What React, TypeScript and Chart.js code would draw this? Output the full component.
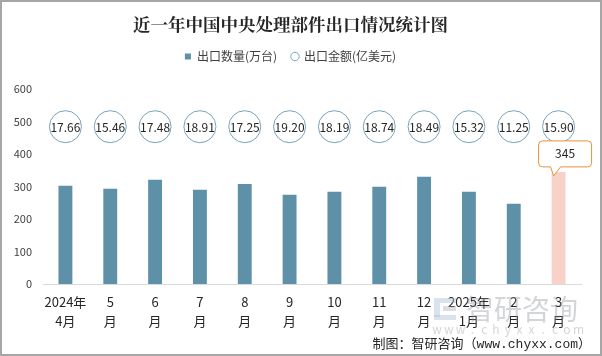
import React, { useEffect, useRef } from 'react';
import { Chart, registerables } from 'chart.js';

Chart.register(...registerables);

const MONTHS: string[][] = [
  ['2024年', '4月'], ['5', '月'], ['6', '月'], ['7', '月'], ['8', '月'], ['9', '月'],
  ['10', '月'], ['11', '月'], ['12', '月'], ['2025年', '1月'], ['2', '月'], ['3', '月'],
];
const QUANTITY: number[] = [302, 293, 321, 290, 308, 275, 284, 299, 330, 284, 247, 345];
const AMOUNT: number[] = [17.66, 15.46, 17.48, 18.91, 17.25, 19.2, 18.19, 18.74, 18.49, 15.32, 11.25, 15.9];
const Y_MIN = 0;
const Y_MAX = 600;
const Y_STEP = 100;
const BUBBLE_ROW = 484; // level (on the quantity axis) where amount bubbles sit

const TITLE = '近一年中国中央处理部件出口情况统计图';
const SERIES_QTY = '出口数量(万台)';
const SERIES_AMT = '出口金额(亿美元)';
const SOURCE = '制图：智研咨询（www.chyxx.com）';

const FONT = '"Microsoft YaHei", "Noto Sans CJK SC", sans-serif';
const BAR_COLOR = '#5e91a8';
const LAST_COLOR = '#f8d2c9';
const BUBBLE_BORDER = '#76a3b9';

const legendSpacer = {
  id: 'legendSpacer',
  beforeLayout(chart: any) {
    const lg = chart.legend;
    if (lg && !lg.__patched) {
      const orig = lg.fit.bind(lg);
      lg.fit = function () {
        orig();
        this.height += 16.5;
      };
      lg.__patched = true;
    }
  },
};

const decor = {
  id: 'decor',
  afterDatasetsDraw(chart: any) {
    const ctx = chart.ctx as CanvasRenderingContext2D;
    // bubble labels
    const m1 = chart.getDatasetMeta(1);
    ctx.save();
    ctx.font = `12px ${FONT}`;
    ctx.fillStyle = '#262626';
    ctx.textAlign = 'center';
    ctx.textBaseline = 'middle';
    m1.data.forEach((p: any, i: number) => {
      ctx.fillText(AMOUNT[i].toFixed(2), p.x, p.y + 1);
    });
    ctx.restore();

    // callout on last bar
    const m0 = chart.getDatasetMeta(0);
    const idx = QUANTITY.length - 1;
    const bar = m0.data[idx];
    const bx = bar.x, by = bar.y;
    const left = bx - 20, right = bx + 33, top = by - 31, bottom = by - 5, r = 4;
    ctx.save();
    ctx.beginPath();
    ctx.moveTo(left + r, top);
    ctx.lineTo(right - r, top);
    ctx.arcTo(right, top, right, top + r, r);
    ctx.lineTo(right, bottom - r);
    ctx.arcTo(right, bottom, right - r, bottom, r);
    ctx.lineTo(bx + 2, bottom);
    ctx.lineTo(bx - 5, by + 4);
    ctx.lineTo(bx - 8, bottom);
    ctx.lineTo(left + r, bottom);
    ctx.arcTo(left, bottom, left, bottom - r, r);
    ctx.lineTo(left, top + r);
    ctx.arcTo(left, top, left + r, top, r);
    ctx.closePath();
    ctx.fillStyle = '#ffffff';
    ctx.fill();
    ctx.strokeStyle = '#e8913a';
    ctx.lineWidth = 1;
    ctx.stroke();
    ctx.font = `12px ${FONT}`;
    ctx.fillStyle = '#262626';
    ctx.textAlign = 'center';
    ctx.textBaseline = 'middle';
    ctx.fillText(String(QUANTITY[idx]), (left + right) / 2, (top + bottom) / 2);
    ctx.restore();
  },
  afterDraw(chart: any) {
    const ctx = chart.ctx as CanvasRenderingContext2D;
    const W = chart.width, H = chart.height;
    ctx.save();
    // watermark logo
    ctx.fillStyle = 'rgba(170,190,215,0.45)';
    ctx.fillRect(434, 298, 22, 5);
    ctx.fillRect(434, 303, 6, 14);
    ctx.fillRect(434, 315, 22, 5);
    ctx.fillStyle = 'rgba(150,160,175,0.35)';
    ctx.fillRect(443, 306, 13, 5);
    // watermark text
    ctx.fillStyle = 'rgba(140,145,155,0.38)';
    ctx.font = `28px ${FONT}`;
    ctx.textAlign = 'left';
    ctx.textBaseline = 'middle';
    ctx.fillText('智研咨询', 466, 309);
    ctx.font = `12px ${FONT}`;
    ctx.textAlign = 'center';
    const wm = 'www.chyxx.com';
    for (let i = 0; i < wm.length; i++) {
      ctx.fillText(wm[i], 437 + i * 11.8, 329);
    }
    // source text
    ctx.fillStyle = '#262626';
    ctx.font = `13px "Liberation Mono", "Noto Sans CJK SC", monospace`;
    ctx.textAlign = 'right';
    ctx.textBaseline = 'middle';
    ctx.fillText(SOURCE, 591, 345);
    // border
    ctx.strokeStyle = '#a6a6a6';
    ctx.lineWidth = 2;
    ctx.strokeRect(1, 1, W - 2, H - 2);
    ctx.restore();
  },
};

export default function App() {
  const ref = useRef<HTMLCanvasElement | null>(null);
  useEffect(() => {
    if (!ref.current) return;
    const chart = new Chart(ref.current, {
      type: 'bar',
      data: {
        labels: MONTHS,
        datasets: [
          {
            type: 'bar',
            label: SERIES_QTY,
            data: QUANTITY,
            backgroundColor: QUANTITY.map((_, i) => (i === QUANTITY.length - 1 ? LAST_COLOR : BAR_COLOR)),
            barPercentage: 0.31,
            categoryPercentage: 1,
            pointStyle: 'rect',
            order: 2,
          } as any,
          {
            type: 'line',
            label: SERIES_AMT,
            data: AMOUNT.map(() => BUBBLE_ROW),
            showLine: false,
            pointRadius: 16,
            pointBackgroundColor: '#ffffff',
            pointBorderColor: BUBBLE_BORDER,
            pointBorderWidth: 1,
            backgroundColor: '#ffffff',
            borderColor: '#9dbccb',
            borderWidth: 1,
            pointStyle: 'circle',
            order: 1,
          } as any,
        ],
      },
      options: {
        animation: false,
        responsive: true,
        maintainAspectRatio: false,
        events: [],
        layout: { padding: { left: 0, right: 21, top: 0, bottom: 0 } },
        plugins: {
          title: {
            display: true,
            text: TITLE,
            color: '#262626',
            font: { size: 17.5, weight: 'bold', family: '"Noto Serif CJK SC", "Noto Sans CJK SC", serif', lineHeight: 1.2 },
            padding: { top: 14, bottom: 0.5 },
          },
          legend: {
            display: true,
            position: 'top',
            labels: {
              usePointStyle: true,
              boxWidth: 6,
              boxHeight: 6,
              padding: 15,
              color: '#404040',
              font: { size: 12, family: FONT },
              sort: (a: any, b: any) => a.datasetIndex - b.datasetIndex,
            },
          },
          tooltip: { enabled: false },
        },
        scales: {
          x: {
            grid: { display: false, drawTicks: false },
            border: { display: true, color: '#d9d9d9', width: 1 },
            ticks: {
              color: '#262626',
              font: { size: 13, family: FONT, lineHeight: 1.45 },
              padding: 9,
              maxRotation: 0,
              autoSkip: false,
            },
            afterFit: (s: any) => { s.height = 72; },
          },
          y: {
            min: Y_MIN,
            max: Y_MAX,
            grid: { display: false, drawTicks: false },
            border: { display: false },
            ticks: {
              stepSize: Y_STEP,
              color: '#404040',
              font: { size: 11, family: FONT },
              padding: 11,
            },
            afterFit: (s: any) => { s.width = 43; },
          },
        },
      },
      plugins: [legendSpacer, decor],
    });
    return () => chart.destroy();
  }, []);

  return (
    <div style={{ position: 'fixed', left: 0, top: 0, width: 602, height: 356, background: '#ffffff' }}>
      <canvas ref={ref} />
    </div>
  );
}
